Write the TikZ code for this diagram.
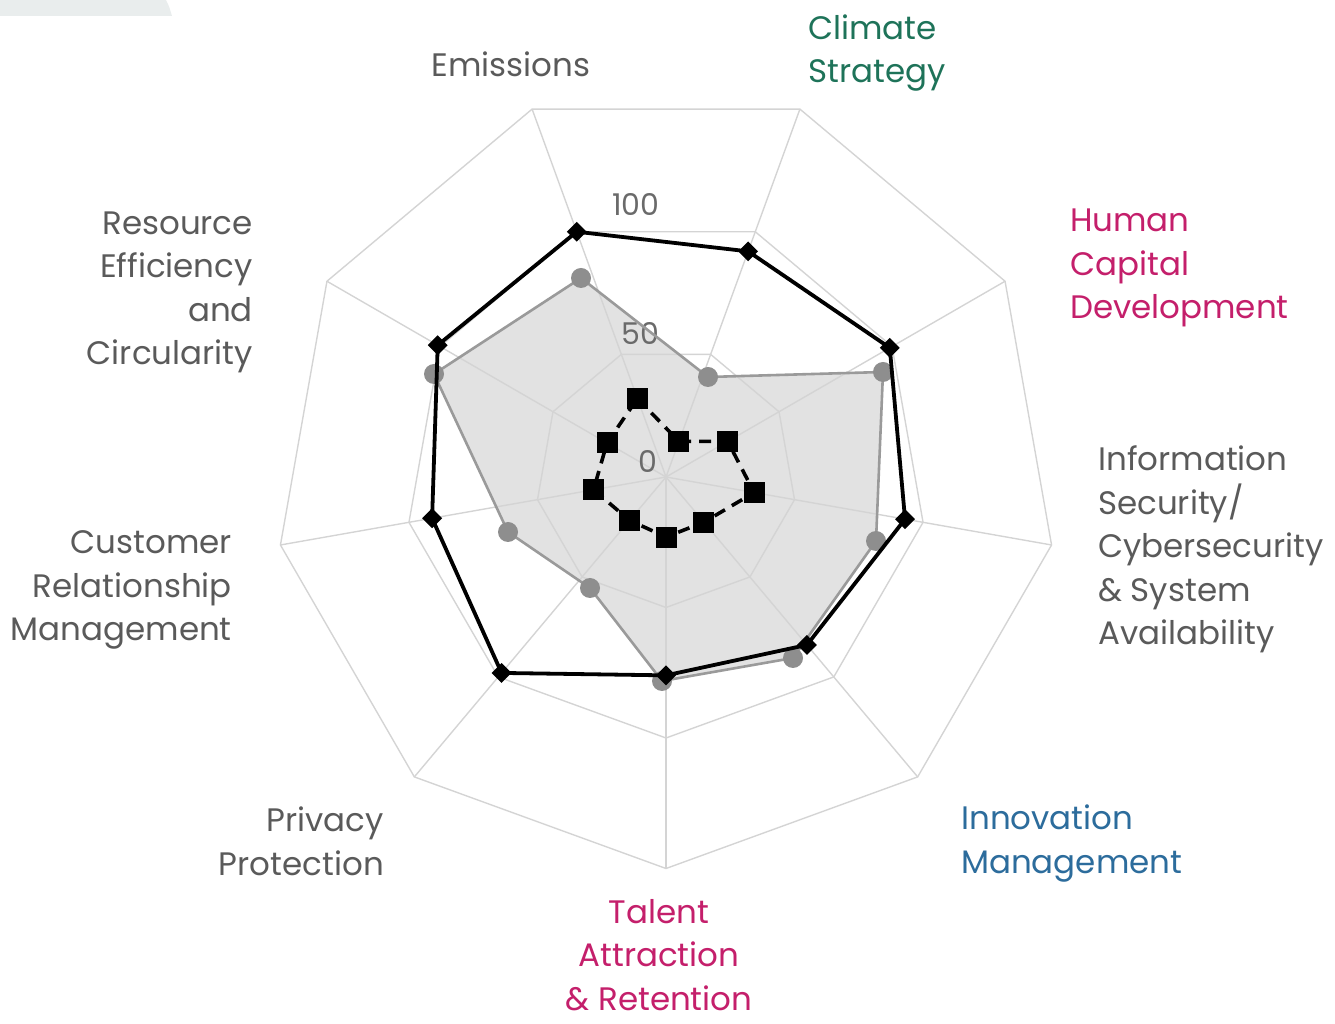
\documentclass[tikz,border=0pt]{standalone}
\usepackage{fontspec}
\setmainfont{Poppins}
\usetikzlibrary{shapes.geometric}
\definecolor{gridc}{HTML}{D4D4D4}
\definecolor{fillc}{HTML}{E2E2E2}
\definecolor{glinec}{HTML}{9A9A9A}
\definecolor{gdotc}{HTML}{8E8E8E}
\definecolor{txtc}{HTML}{5A5A5A}
\definecolor{numc}{HTML}{6A6A6A}
\definecolor{greenc}{HTML}{1E7359}
\definecolor{magc}{HTML}{C41F6B}
\definecolor{bluec}{HTML}{2C6C9C}
\definecolor{topc}{HTML}{E9EDED}
\tikzset{
  gridline/.style={draw=gridc, line width=1.4pt},
  grayline/.style={draw=glinec, line width=2.6pt, line join=round},
  blackline/.style={draw=black, line width=3.8pt, line join=round},
  dashline/.style={draw=black, line width=3.6pt, dash pattern=on 12pt off 8pt},
  gdot/.style={circle, fill=gdotc, minimum size=20pt, inner sep=0pt},
  bdia/.style={diamond, fill=black, minimum width=20pt, minimum height=20pt, inner sep=0pt},
  dsq/.style={rectangle, fill=black, minimum size=21pt, inner sep=0pt},
  lab/.style={font=\fontsize{32.5}{43.5}\selectfont, inner sep=0pt, text=txtc},
  num/.style={font=\fontsize{30}{36}\selectfont, inner sep=0pt, text=numc}
}
\def\kk{2.61}
\begin{document}
\begin{tikzpicture}[x=1pt,y=1pt]
\useasboundingbox (0,0) rectangle (1335,1023);
\fill[topc] (0,1023) -- (166,1023) .. controls (169,1017) .. (172,1007) -- (0,1007) -- cycle;
\begin{scope}[shift={(666,546)}]
  \coordinate (C) at (0,0);
  % gray series points (as drawn in the chart)
  \coordinate (g0) at (-85,199);
  \coordinate (g1) at (42,100);
  \coordinate (g2) at (217,105);
  \coordinate (g3) at (210,-64);
  \coordinate (g4) at (127,-181);
  \coordinate (g5) at (-4,-204);
  \coordinate (g6) at (-76,-111);
  \coordinate (g7) at (-158,-55);
  \coordinate (g8) at (-232,103);
  \foreach \v [count=\i from 0] in {100,92,99,93,84,76,98,91,101}
    \coordinate (b\i) at ({110-40*\i}:{\v*\kk});
  \foreach \v [count=\i from 0] in {32,14.5,27.3,34.3,22.6,23,21.7,28.2,26.1}
    \coordinate (d\i) at ({110-40*\i}:{\v*\kk});
  % gray area
  \fill[fillc] (g0) -- (g1) -- (g2) -- (g3) -- (g4) -- (g5) -- (g6) -- (g7) -- (g8) -- cycle;
  % grid
  \foreach \r in {50,100,150}
    \draw[gridline] (110:{\r*\kk}) -- (70:{\r*\kk}) -- (30:{\r*\kk}) -- (-10:{\r*\kk}) -- (-50:{\r*\kk}) -- (-90:{\r*\kk}) -- (-130:{\r*\kk}) -- (-170:{\r*\kk}) -- (150:{\r*\kk}) -- cycle;
  \foreach \i in {0,...,8}
    \draw[gridline] (C) -- ({110-40*\i}:{150*\kk});
  % axis numbers
  \node[num] (n0) at (-18,16) {0};
  \node[num] (n50) at (-26,143) {50};
  \node[num] (n100) at (-30,273) {100};
  % gray series
  \draw[grayline] (g0) -- (g1) -- (g2) -- (g3) -- (g4) -- (g5) -- (g6) -- (g7) -- (g8) -- cycle;
  \foreach \i in {0,...,8} \node[gdot] (gm\i) at (g\i) {};
  % black series
  \draw[blackline] (b0) -- (b1) -- (b2) -- (b3) -- (b4) -- (b5) -- (b6) -- (b7) -- (b8) -- cycle;
  \foreach \i in {0,...,8} \node[bdia] (bm\i) at (b\i) {};
  % dashed series
  \draw[dashline] (d0) -- (d1) -- (d2) -- (d3) -- (d4) -- (d5) -- (d6) -- (d7) -- (d8) -- cycle;
  \foreach \i in {0,...,8} \node[dsq] (dm\i) at (d\i) {};
\end{scope}
% category labels (base anchor = baseline of last line)
\node[lab, anchor=base] (lE) at (511,946) {Emissions};
\node[lab, anchor=base west, align=left, text=greenc] (lC) at (808,940) {Climate\\Strategy};
\node[lab, anchor=base west, align=left, text=magc] (lH) at (1070,704) {Human\\Capital\\Development};
\node[lab, anchor=base west, align=left] (lI) at (1098,378) {Information\\Security/\\Cybersecurity\\\& System\\Availability};
\node[lab, anchor=base west, align=left, text=bluec] (lN) at (961,150) {Innovation\\Management};
\node[lab, anchor=base, align=center, text=magc, text depth=0pt] (lT) at (659,13) {Talent\\Attraction\\\& Retention};
\node[lab, anchor=base east, align=right] (lP) at (384,148) {Privacy\\Protection};
\node[lab, anchor=base east, align=right] (lU) at (232,382) {Customer\\Relationship\\Management};
\node[lab, anchor=base east, align=right] (lR) at (253,658) {Resource\\Efficiency\\and\\Circularity};
\end{tikzpicture}
\end{document}
